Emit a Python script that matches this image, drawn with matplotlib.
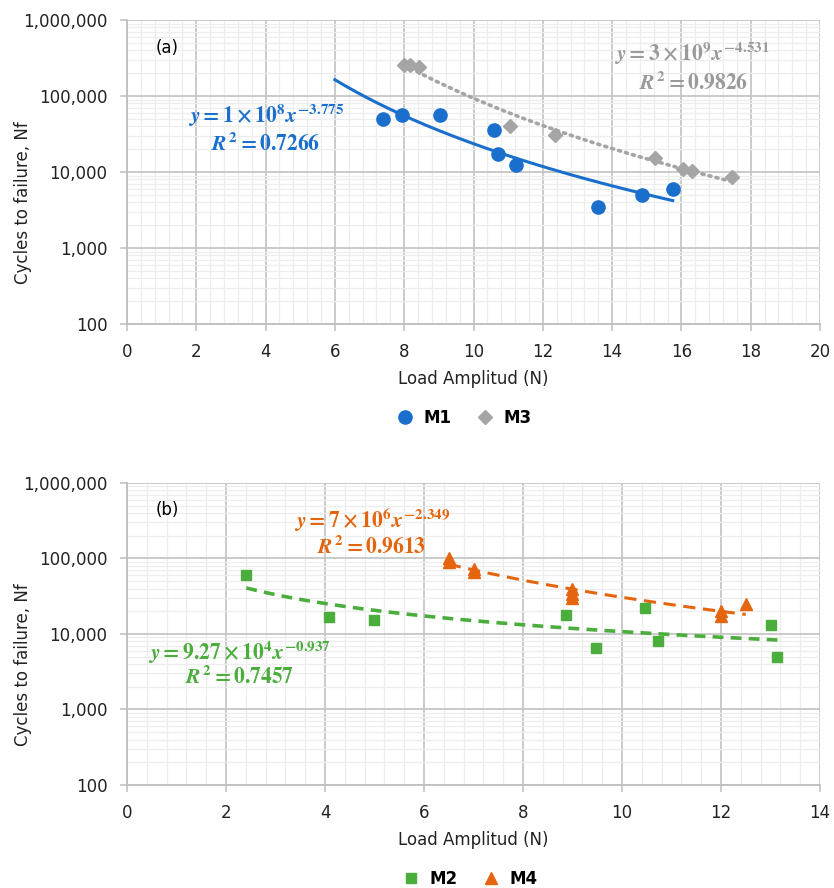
import numpy as np
import matplotlib
matplotlib.use('Agg')
import matplotlib.pyplot as plt
from matplotlib.ticker import FixedLocator, FuncFormatter, LogLocator, NullFormatter

# Data
m1_x = [7.38, 7.94, 9.02, 10.6, 10.7, 11.24, 13.6, 14.86, 15.75]
m1_y = [50000, 56000, 56000, 35300, 17300, 12500, 3500, 5000, 6000]
m3_x = [8.0, 8.18, 8.44, 11.06, 12.36, 15.24, 16.05, 16.3, 17.47]
m3_y = [258000, 258000, 242000, 40300, 30400, 15400, 11100, 10400, 8500]

m2_x = [2.41, 4.08, 4.98, 8.87, 9.47, 10.46, 10.73, 13.01, 13.14]
m2_y = [60000, 16700, 15100, 18100, 6500, 22200, 8000, 13000, 5000]
m4_x = [6.5, 6.5, 7.0, 7.0, 9.0, 9.0, 9.0, 12.0, 12.0, 12.5]
m4_y = [100000, 90000, 72000, 66000, 40000, 34000, 30000, 20000, 17500, 25000]

y_ticks = [100, 1000, 10000, 100000, 1000000]

eq_m1 = [r'$y = 1 \times 10^{8}x^{-3.775}$', r'$R^{2} = 0.7266$']
eq_m3 = [r'$y = 3 \times 10^{9}x^{-4.531}$', r'$R^{2} = 0.9826$']
eq_m4 = [r'$y = 7 \times 10^{6}x^{-2.349}$', r'$R^{2} = 0.9613$']
eq_m2 = [r'$y = 9.27 \times 10^{4}x^{-0.937}$', r'$R^{2} = 0.7457$']

BLUE = '#1a6fcc'
GRAY = '#a5a5a5'
GREEN = '#4aad3c'
ORANGE = '#e5650f'
EQ_SIZE = 15.5

plt.rcParams['font.family'] = ['DejaVu Sans']
plt.rcParams['mathtext.fontset'] = 'custom'
plt.rcParams['mathtext.it'] = 'STIXGeneral:italic:bold'
plt.rcParams['mathtext.rm'] = 'STIXGeneral:bold'
plt.rcParams['mathtext.bf'] = 'STIXGeneral:bold'


# power trend line like Excel: fit in log-log space
def power_trend(x, y, x_start):
    b, log_a = np.polyfit(np.log10(x), np.log10(y), 1)
    xs = np.linspace(x_start, max(x), 200)
    return xs, 10 ** log_a * xs ** b


def style_axes(ax, xmax):
    ax.set_yscale('log')
    ax.set_ylim(100, 1000000)
    ax.set_xlim(0, xmax)
    ax.set_xticks(np.arange(0, xmax + 1, 2))
    ax.xaxis.set_minor_locator(FixedLocator(np.arange(0, xmax + 0.01, 0.4)))
    ax.yaxis.set_major_locator(FixedLocator(y_ticks))
    ax.yaxis.set_minor_locator(LogLocator(base=10, subs=np.arange(2, 10)))
    ax.yaxis.set_major_formatter(FuncFormatter(lambda v, p: f'{int(v):,}'))
    ax.yaxis.set_minor_formatter(NullFormatter())
    ax.grid(which='major', color='#c6c6c6', linewidth=1.3, zorder=0)
    ax.grid(which='minor', color='#ededed', linewidth=0.9, zorder=0)
    ax.set_axisbelow(True)
    for s in ['top', 'right']:
        ax.spines[s].set_visible(False)
    for s in ['left', 'bottom']:
        ax.spines[s].set_color('#bfbfbf')
        ax.spines[s].set_linewidth(1.3)
    ax.tick_params(which='major', direction='out', length=5, width=1.1,
                   color='#bfbfbf', labelsize=12, labelcolor='#222222')
    ax.tick_params(axis='x', pad=9)
    ax.tick_params(axis='y', pad=9)
    ax.tick_params(which='minor', length=0)
    ax.set_xlabel('Load Amplitud (N)', fontsize=12, color='#222222', labelpad=6)
    ax.set_ylabel('Cycles to failure, Nf', fontsize=12, color='#222222')
    ax.yaxis.set_label_coords(-0.137, 0.398)


def equation(ax, x, y, s, color):
    ax.text(x, y, s, color=color, fontsize=EQ_SIZE, ha='center', va='center',
            transform=ax.transAxes)


fig = plt.figure(figsize=(8.34, 8.88), dpi=100)
ax1 = fig.add_axes([0.1523, 0.6351, 0.8309, 0.3423])
ax2 = fig.add_axes([0.1523, 0.1160, 0.8309, 0.3401])

# (a)
style_axes(ax1, 20)
xs, ys = power_trend(m1_x, m1_y, 6.0)
ax1.plot(xs, ys, color=BLUE, linewidth=2.2, zorder=2)
xs, ys = power_trend(m3_x, m3_y, min(m3_x))
ax1.plot(xs, ys, color=GRAY, linewidth=2.6, linestyle=(0, (0.6, 1.4)),
         dash_capstyle='round', zorder=2)
h1, = ax1.plot(m1_x, m1_y, 'o', color=BLUE, markersize=9.5, zorder=3, label='M1')
h3, = ax1.plot(m3_x, m3_y, 'D', color=GRAY, markersize=7, zorder=3, label='M3')
ax1.text(0.042, 0.908, '(a)', transform=ax1.transAxes, fontsize=12, va='center')
equation(ax1, 0.2006, 0.6875, eq_m1[0], BLUE)
equation(ax1, 0.2006, 0.595, eq_m1[1], BLUE)
equation(ax1, 0.815, 0.891, eq_m3[0], '#9a9a9a')
equation(ax1, 0.818, 0.796, eq_m3[1], '#9a9a9a')
fig.legend(handles=[h1, h3], loc='center', bbox_to_anchor=(460 / 834, 1 - 418 / 888),
           ncol=2, frameon=False, handletextpad=0.1, columnspacing=1.0,
           prop={'size': 12, 'weight': 'bold'})

# (b)
style_axes(ax2, 14)
xs, ys = power_trend(m2_x, m2_y, min(m2_x))
ax2.plot(xs, ys, color=GREEN, linewidth=2.6, linestyle=(0, (3, 2)), zorder=2)
xs, ys = power_trend(m4_x, m4_y, min(m4_x))
ax2.plot(xs, ys, color=ORANGE, linewidth=2.2, linestyle=(0, (4, 2.5)), zorder=2)
h2, = ax2.plot(m2_x, m2_y, 's', color=GREEN, markersize=7.5, zorder=3, label='M2')
h4, = ax2.plot(m4_x, m4_y, '^', color=ORANGE, markersize=9, zorder=3, label='M4')
ax2.text(0.042, 0.911, '(b)', transform=ax2.transAxes, fontsize=12, va='center')
equation(ax2, 0.3535, 0.8775, eq_m4[0], ORANGE)
equation(ax2, 0.3535, 0.791, eq_m4[1], ORANGE)
equation(ax2, 0.163, 0.440, eq_m2[0], GREEN)
equation(ax2, 0.163, 0.358, eq_m2[1], GREEN)
fig.legend(handles=[h2, h4], loc='center', bbox_to_anchor=(466 / 834, 1 - 879 / 888),
           ncol=2, frameon=False, handletextpad=0.1, columnspacing=1.0,
           prop={'size': 12, 'weight': 'bold'})

fig.savefig('out.png', dpi=100)
